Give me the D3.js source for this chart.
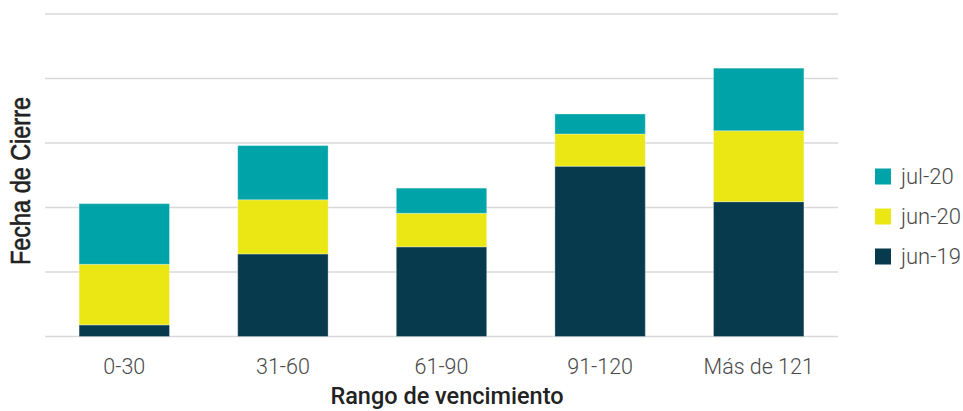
<!DOCTYPE html>
<html>
<head>
<meta charset="utf-8">
<script src="https://cdn.jsdelivr.net/npm/d3@7/dist/d3.min.js"></script>
<style>
  html, body { margin: 0; padding: 0; background: #fff; }
  svg { display: block; }
</style>
</head>
<body>
<svg id="chart" width="963" height="411"></svg>
<script>
// Maturity buckets and stacked balances per closing date
const categories = ["0-30", "31-60", "61-90", "91-120", "Más de 121"];
const jun19 = [1.8, 12.8, 13.9, 26.4, 20.9];
const jun20 = [9.4, 8.4, 5.2, 5.0, 11.0];
const jul20 = [9.4, 8.4, 3.9, 3.1, 9.7];
const seriesNames = ["jun-19", "jun-20", "jul-20"];
const seriesColors = ["#073a4c", "#ebe714", "#00a3a8"];
const yTicks = [0, 10, 20, 30, 40, 50];

const svg = d3.select("#chart");
const plot = { left: 45, right: 838, top: 14, bottom: 336.5 };

const rows = categories.map((c, i) => ({
  cat: c, "jun-19": jun19[i], "jun-20": jun20[i], "jul-20": jul20[i]
}));
const stacked = d3.stack().keys(seriesNames)(rows);

const x = d3.scaleBand()
  .domain(categories)
  .range([plot.left, plot.right])
  .paddingInner(0.43)
  .paddingOuter(0.215);

const y = d3.scaleLinear()
  .domain([0, 50])
  .range([plot.bottom, plot.top]);

const color = d3.scaleOrdinal().domain(seriesNames).range(seriesColors);

// horizontal gridlines
svg.append("g")
  .selectAll("line")
  .data(yTicks)
  .join("line")
  .attr("x1", plot.left)
  .attr("x2", plot.right)
  .attr("y1", d => y(d))
  .attr("y2", d => y(d))
  .attr("stroke", "#d9d9d9")
  .attr("stroke-width", 1.3);

// stacked bars
svg.append("g")
  .selectAll("g")
  .data(stacked)
  .join("g")
  .attr("fill", d => color(d.key))
  .selectAll("rect")
  .data(d => d)
  .join("rect")
  .attr("x", d => x(d.data.cat))
  .attr("width", x.bandwidth())
  .attr("y", d => y(d[1]))
  .attr("height", d => y(d[0]) - y(d[1]))
  .attr("stroke", "rgba(255,255,255,0.3)")
  .attr("stroke-width", 1);

// category axis labels
const xAxis = d3.axisBottom(x).tickSize(0).tickPadding(0);
const gx = svg.append("g")
  .attr("transform", `translate(0,${plot.bottom})`)
  .call(xAxis);
gx.select(".domain").remove();
gx.selectAll("text")
  .attr("y", 37)
  .attr("dy", 0)
  .attr("font-family", "Roboto, sans-serif")
  .attr("font-weight", 300)
  .attr("font-size", 21.5)
  .attr("fill", "#4a4a4a");

// axis titles
svg.append("text")
  .attr("x", 447)
  .attr("y", 404)
  .attr("text-anchor", "middle")
  .attr("font-family", "Roboto, sans-serif")
  .attr("font-weight", 500)
  .attr("font-size", 23.5)
  .attr("fill", "#222")
  .text("Rango de vencimiento");

svg.append("text")
  .attr("transform", "translate(30,181) rotate(-90)")
  .attr("text-anchor", "middle")
  .attr("font-family", "'Liberation Sans Narrow', 'Liberation Sans', Arial, sans-serif")
  .attr("font-weight", 400)
  .attr("font-size", 27)
  .attr("textLength", 168)
  .attr("lengthAdjust", "spacingAndGlyphs")
  .attr("fill", "#222")
  .attr("stroke", "#222")
  .attr("stroke-width", 0.6)
  .text("Fecha de Cierre");

// legend (top entry is the top of the stack)
const legendItems = seriesNames.slice().reverse();
const legend = svg.append("g")
  .selectAll("g")
  .data(legendItems)
  .join("g")
  .attr("transform", (d, i) => `translate(875,${168.5 + i * 40})`);
legend.append("rect")
  .attr("width", 16)
  .attr("height", 16)
  .attr("fill", d => color(d));
legend.append("text")
  .attr("x", 26)
  .attr("y", 15)
  .attr("font-family", "Roboto, sans-serif")
  .attr("font-weight", 300)
  .attr("font-size", 22)
  .attr("fill", "#4a4a4a")
  .text(d => d);
</script>
</body>
</html>
